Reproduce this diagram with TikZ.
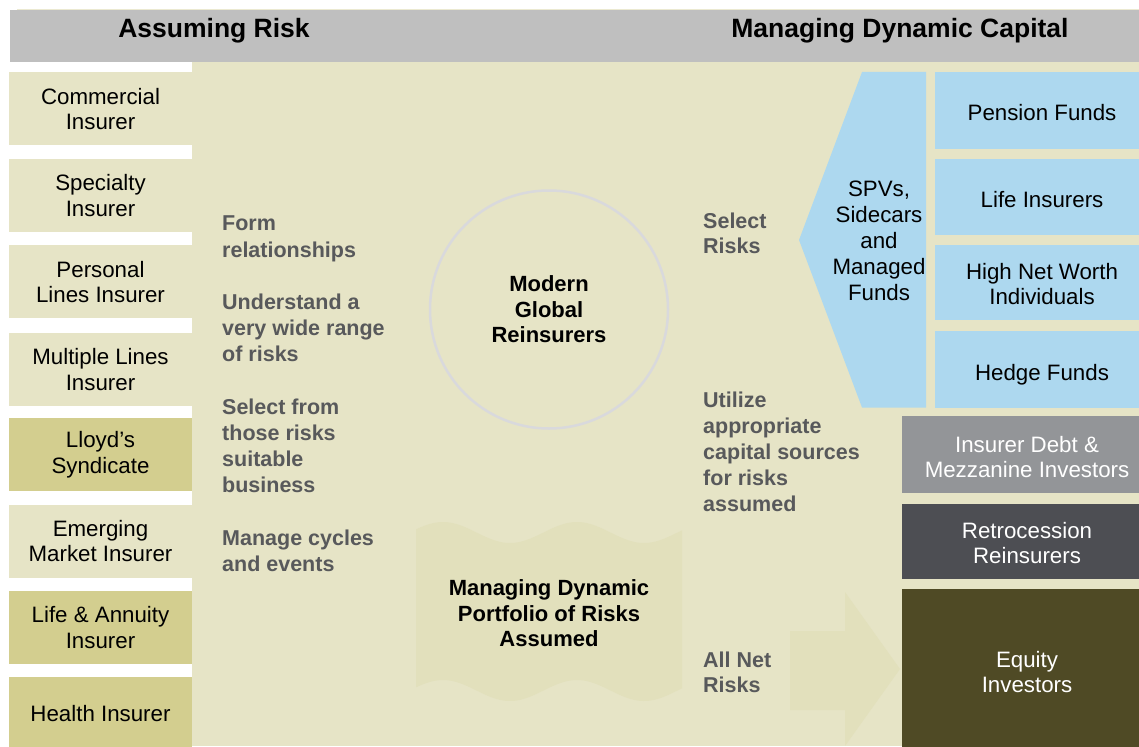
\documentclass[tikz,border=0pt]{standalone}
\usepackage{fontspec}
\setmainfont{Liberation Sans}

\definecolor{pagebg}{HTML}{E6E4C6}
\definecolor{headgray}{HTML}{BFBFBF}
\definecolor{oliveband}{HTML}{D3CE8F}
\definecolor{skyblue}{HTML}{ADD8EF}
\definecolor{debtgray}{HTML}{939598}
\definecolor{retrogray}{HTML}{4D4E53}
\definecolor{equityolive}{HTML}{4F4A25}
\definecolor{captiongray}{HTML}{58595B}
\definecolor{ringgray}{HTML}{D9D9DC}
\definecolor{faintshape}{HTML}{E2E0BC}

\newcommand\dgmfont{\fontsize{22.3pt}{25.5pt}\selectfont}
\newcommand\notefont{\fontsize{21.5pt}{26.2pt}\selectfont\bfseries}
\newcommand\keyfont{\fontsize{22pt}{25.5pt}\selectfont\bfseries}
\newcommand\titlefont{\fontsize{26.5pt}{30pt}\selectfont\bfseries}
% invisible strut that lowers the text block inside a box
\newcommand\lowerby[1]{\rule{0pt}{#1}}

\tikzset{
  lbox/.style={rectangle, inner sep=0pt, minimum width=183pt, minimum height=73pt,
    align=center, font=\dgmfont, text=black, fill=pagebg},
  lboxdark/.style={lbox, fill=oliveband},
  fundbox/.style={rectangle, inner sep=0pt, minimum width=214pt, align=center,
    font=\dgmfont, text=black, fill=skyblue},
  oneline/.style={text height=21pt, text depth=0pt},
  capbox/.style={rectangle, inner sep=0pt, minimum width=250pt, align=center,
    font=\dgmfont, text=white},
  note/.style={inner sep=0pt, align=left, anchor=base west, font=\notefont, text=captiongray},
  titletext/.style={inner sep=0pt, anchor=base, font=\titlefont, text=black},
  keytext/.style={inner sep=0pt, align=center, font=\keyfont, text=black},
}

\begin{document}
\begin{tikzpicture}[x=1pt, y=-1pt]
\useasboundingbox (0,0) rectangle (1139,746);
\clip (0,0) rectangle (1139,746);

% header band and main field
\draw[pagebg!80!white, line width=0.8pt] (17,9) -- (1139,9);
\fill[headgray] (10,10) rectangle (1139,62.5);
\fill[pagebg] (192,62.5) rectangle (1139,746);

\node[titletext] (assume) at (214,37.5) {Assuming Risk};
\node[titletext] (capital) at (900,38) {Managing Dynamic Capital};

% cedents
\node[lbox]     (commercial) at (100.5,109)   {Commercial\\Insurer};
\node[lbox]     (specialty)  at (100.5,195.4) {Specialty\\Insurer};
\node[lbox]     (personal)   at (100.5,281.8) {Personal\\Lines Insurer};
\node[lbox]     (multiple)   at (100.5,369.5) {Multiple Lines\\Insurer};
\node[lboxdark] (lloyds)     at (100.5,454.6) {Lloyd’s\\Syndicate};
\node[lbox]     (emerging)   at (100.5,541)   {Emerging\\Market Insurer};
\node[lboxdark] (lifeann)    at (100.5,627.4) {Life \& Annuity\\Insurer};
\node[lboxdark] (health)     at (100.5,713.8) {Health Insurer};

% activities (base anchor sits on the last line)
\node[note] (activities) at (222,571.5)
  {Form\\relationships\\[26.2pt]Understand a\\very wide range\\of risks\\[26.2pt]Select from\\those risks\\suitable\\business\\[26.2pt]Manage cycles\\and events};

% central ring
\node[circle, draw=ringgray, line width=2.5pt, minimum size=238pt, inner sep=0pt,
      align=center, font=\keyfont] (ring) at (549,309.5) {Modern\\Global\\Reinsurers};

% portfolio banner (wave period 134, 360/134 = 2.6866 deg per unit)
\fill[faintshape]
  plot[domain=416:682, samples=90] (\x,{532.5-10.5*cos(2.6866*(\x-443))})
  -- plot[domain=682:416, samples=90] (\x,{690.5-10.5*cos(2.6866*(\x-443))})
  -- cycle;
\node[keytext] (portfolio) at (549,613.5) {Managing Dynamic\\Portfolio of Risks\\Assumed};

% net risk arrow
\fill[faintshape] (790,631) -- (845,631) -- (845,592) -- (900,669)
  -- (845,746) -- (845,710) -- (790,710) -- cycle;

% flows
\node[note, font=\fontsize{21.5pt}{25pt}\selectfont\bfseries] (select) at (703,253) {Select\\Risks};
\node[note, font=\fontsize{21.5pt}{26pt}\selectfont\bfseries] (utilize) at (703,511)
  {Utilize\\appropriate\\capital sources\\for risks\\assumed};
\node[note, font=\fontsize{21.5pt}{25pt}\selectfont\bfseries] (allnet) at (703,692.7) {All Net\\Risks};

% vehicles
\fill[skyblue] (862,72) -- (926,72) -- (926,407.5) -- (862,407.5) -- (799,240) -- cycle;
\node[inner sep=0pt, align=center, font=\fontsize{22.3pt}{26pt}\selectfont] (spv) at (879,240.5)
  {SPVs,\\Sidecars\\and\\Managed\\Funds};

% capital providers
\node[fundbox, oneline, minimum height=77pt] (pension) at (1042,110.5) {Pension Funds};
\node[fundbox, oneline, minimum height=76pt] (lifeins) at (1042,197)   {Life Insurers};
\node[fundbox, minimum height=75pt] (hnw)     at (1042,282.5) {\lowerby{19.3pt}High Net Worth\\Individuals};
\node[fundbox, oneline, minimum height=77pt] (hedge)   at (1042,369.5) {Hedge Funds};

\node[capbox, fill=debtgray, minimum height=77pt]   (debt)   at (1027,454.5) {\lowerby{21.3pt}Insurer Debt \&\\Mezzanine Investors};
\node[capbox, fill=retrogray, minimum height=75pt]  (retro)  at (1027,541.5) {\lowerby{19.3pt}Retrocession\\Reinsurers};
\node[capbox, fill=equityolive, minimum height=166pt] (equity) at (1027,672) {Equity\\Investors};
\end{tikzpicture}
\end{document}
